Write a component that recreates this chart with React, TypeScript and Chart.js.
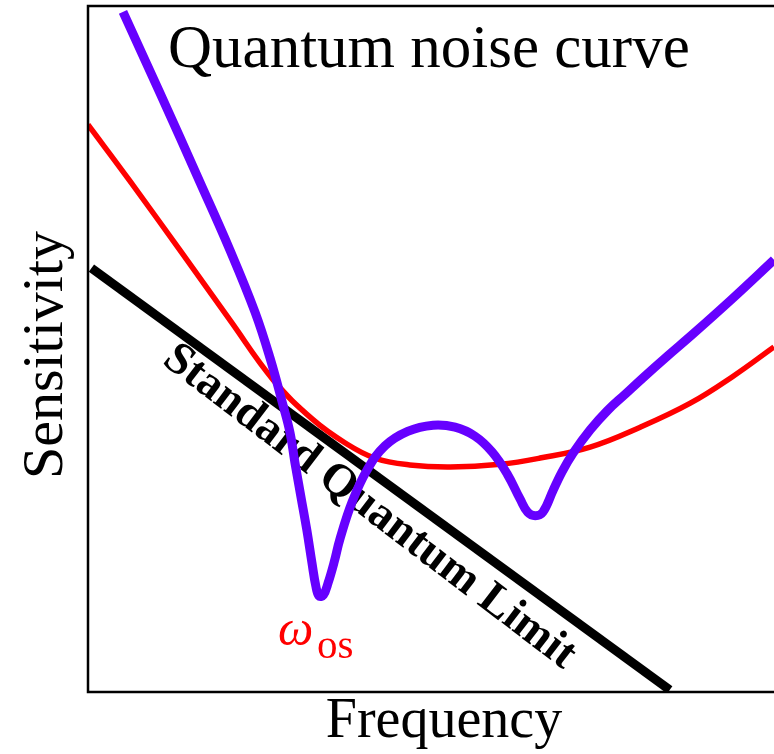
import React, { useEffect, useRef } from "react";
import { Chart, registerables } from "chart.js";
Chart.register(...registerables);

// Data in abstract units (0..100 on both axes)
const purpleX = [5.1, 10.5, 16.33, 20.7, 24.34, 26.53, 28.43, 29.45, 30.17, 31.05, 31.9, 32.65, 33.2, 33.67, 34.3, 35.0, 35.9, 36.7, 38.5, 40.7, 43.3, 46.6, 50.3, 53.5, 56.4, 58.9, 61.1, 63.0, 64.1, 65.2, 66.3, 67.8, 69.1, 70.7, 73.2, 75.7, 78.3, 80.9, 84.5, 88.2, 94.0, 100];
const purpleY = [99.13, 87.3, 74.3, 64.4, 55.4, 48.7, 41.8, 37.8, 33.4, 28.4, 23.6, 18.8, 15.5, 14.0, 14.1, 15.9, 19.0, 22.2, 27.7, 32.4, 35.9, 38.0, 38.9, 38.6, 37.3, 35.0, 31.8, 28.1, 26.2, 25.7, 26.2, 29.4, 32.1, 34.8, 38.2, 41.0, 43.4, 45.8, 49.0, 52.2, 57.4, 63.0];
const redX = [0, 6.1, 13.4, 20.7, 27.0, 32.8, 37.5, 41.8, 46.9, 52.8, 60.1, 65.9, 73.2, 80.5, 87.8, 94.0, 100];
const redY = [82.7, 74.5, 64.4, 54.2, 45.5, 39.7, 36.3, 34.1, 33.1, 32.8, 33.2, 34.1, 35.7, 38.6, 42.1, 46.0, 50.3];
const sqlX = [0.5, 84.8];
const sqlY = [61.8, 0.3];

const titleText = "Quantum noise curve";
const xTitle = "Frequency";
const yTitle = "Sensitivity";
const sqlLabel = "Standard Quantum Limit";
const omegaLabel = "ω";
const omegaSub = "os";

const toPts = (xs: number[], ys: number[]) => xs.map((x, i) => ({ x, y: ys[i] }));

const serif = '"Liberation Serif", "Times New Roman", serif';

const decor = {
  id: "decor",
  beforeDatasetsDraw(chart: any) {
    const { ctx, scales } = chart;
    const xs = scales.x, ys = scales.y;
    ctx.save();
    const x0 = xs.getPixelForValue(sqlX[0]), y0 = ys.getPixelForValue(sqlY[0]);
    const x1 = xs.getPixelForValue(sqlX[1]), y1 = ys.getPixelForValue(sqlY[1]);
    const ang = Math.atan2(y1 - y0, x1 - x0) + (1.2 * Math.PI) / 180;
    const mx = (x0 + x1) / 2, my = (y0 + y1) / 2;
    ctx.translate(mx, my);
    ctx.rotate(ang);
    ctx.font = `bold 46px ${serif}`;
    ctx.fillStyle = "#000";
    ctx.textAlign = "center";
    ctx.textBaseline = "middle";
    ctx.fillText(sqlLabel, 8, 29);
    ctx.restore();
  },
  afterDatasetsDraw(chart: any) {
    const { ctx, chartArea } = chart;
    const { left, top, bottom, right } = chartArea;
    ctx.save();
    ctx.strokeStyle = "#000";
    ctx.lineWidth = 2.5;
    ctx.beginPath();
    ctx.moveTo(right, top);
    ctx.lineTo(left, top);
    ctx.lineTo(left, bottom);
    ctx.lineTo(right, bottom);
    ctx.stroke();
    ctx.fillStyle = "#000";
    ctx.font = `61px ${serif}`;
    ctx.textAlign = "left";
    ctx.textBaseline = "alphabetic";
    ctx.fillText(titleText, left + 80, top + 61);
    ctx.font = `56px ${serif}`;
    ctx.textAlign = "center";
    ctx.fillText(xTitle, left + 356, bottom + 45);
    ctx.save();
    ctx.translate(left - 26, top + 349);
    ctx.rotate(-Math.PI / 2);
    ctx.font = `58px ${serif}`;
    ctx.textAlign = "center";
    ctx.fillText(yTitle, 0, 0);
    ctx.restore();
    ctx.fillStyle = "#ff0000";
    ctx.textAlign = "left";
    ctx.font = `italic 50px ${serif}`;
    ctx.fillText(omegaLabel, left + 190, top + 639);
    ctx.font = `41px ${serif}`;
    ctx.fillText(omegaSub, left + 229, top + 652);
    ctx.restore();
  },
};

export default function App() {
  const ref = useRef<HTMLCanvasElement>(null);
  useEffect(() => {
    if (!ref.current) return;
    const chart = new Chart(ref.current, {
      type: "line",
      data: {
        datasets: [
          {
            label: "Optical spring",
            data: toPts(purpleX, purpleY),
            borderColor: "#6600ff",
            borderWidth: 9,
            pointRadius: 0,
            tension: 0.4,
            fill: false,
          },
          {
            label: "Quantum noise",
            data: toPts(redX, redY),
            borderColor: "#ff0000",
            borderWidth: 5.5,
            pointRadius: 0,
            tension: 0.4,
            fill: false,
          },
          {
            label: "SQL",
            data: toPts(sqlX, sqlY),
            borderColor: "#000000",
            borderWidth: 9,
            pointRadius: 0,
            tension: 0,
            fill: false,
          },
        ],
      },
      options: {
        animation: false,
        responsive: false,
        devicePixelRatio: 1,
        layout: { padding: { left: 88, top: 6, right: 0, bottom: 62 } },
        plugins: { legend: { display: false }, tooltip: { enabled: false }, title: { display: false } },
        scales: {
          x: { type: "linear", min: 0, max: 100, display: false },
          y: { type: "linear", min: 0, max: 100, display: false },
        },
      },
      plugins: [decor],
    });
    return () => chart.destroy();
  }, []);
  return (
    <div style={{ position: "fixed", left: 0, top: 0, width: 774, height: 754, background: "#fff" }}>
      <canvas ref={ref} width={774} height={754} style={{ display: "block" }} />
    </div>
  );
}
